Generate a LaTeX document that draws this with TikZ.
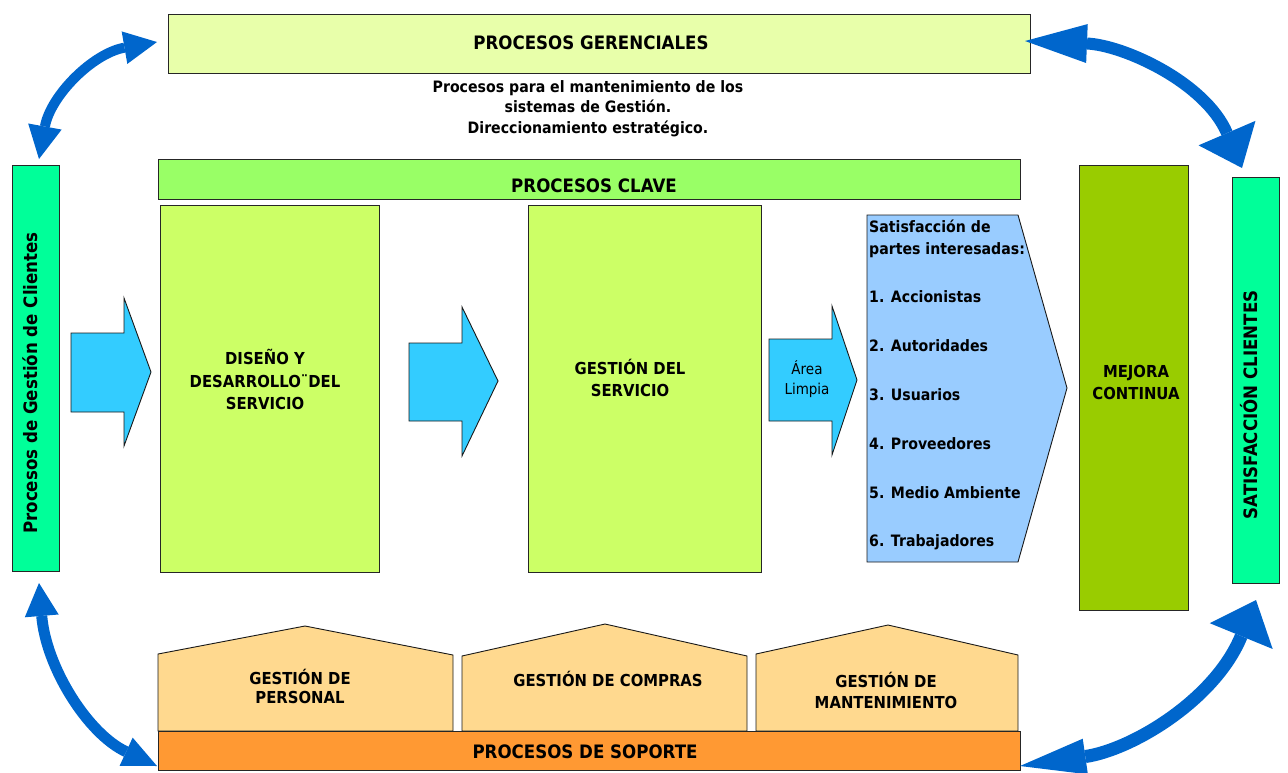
\documentclass[tikz,border=0pt]{standalone}
\usepackage{fontspec}
\setmainfont{DejaVu Sans}[FakeStretch=0.9]
\usetikzlibrary{arrows.meta}
\definecolor{cGer}{HTML}{E8FFAA}
\definecolor{cClave}{HTML}{99FF66}
\definecolor{cCli}{HTML}{00FF99}
\definecolor{cProc}{HTML}{CCFF66}
\definecolor{cMejora}{HTML}{99CC00}
\definecolor{cFlecha}{HTML}{33CCFF}
\definecolor{cPartes}{HTML}{99CCFF}
\definecolor{cCasa}{HTML}{FFD98F}
\definecolor{cSoporte}{HTML}{FF9933}
\definecolor{cAzul}{HTML}{0066CC}
\begin{document}
\begin{tikzpicture}[x=1pt,y=-1pt,
  box/.style={draw=black!85, line width=1.1pt},
  rbox/.style={box, inner sep=0pt, anchor=north west},
  shp/.style={draw=black!90, line width=0.9pt},
  hd/.style={font=\bfseries\fontsize{18.5}{22}\selectfont, inner sep=0pt, text height=13.5pt, text depth=0pt},
  lb/.style={font=\bfseries\fontsize{16.5}{22}\selectfont, inner sep=0pt, text height=12pt, text depth=0pt},
  sm/.style={font=\bfseries\fontsize{15.7}{20}\selectfont, inner sep=0pt, text height=11.4pt, text depth=0pt},
  rg/.style={font=\fontsize{15}{18}\selectfont, inner sep=0pt, text height=10.9pt, text depth=0pt},
  dbl/.style={draw=cAzul, line cap=butt},
]
\useasboundingbox (0,0) rectangle (1288,772);

% ---------- rectangles ----------
\node[rbox, fill=cGer, minimum width=862pt, minimum height=59pt] (ger) at (168,14) {};
\node[rbox, fill=cClave, minimum width=862pt, minimum height=40pt] (clave) at (158,159) {};
\node[rbox, fill=cCli, minimum width=47pt, minimum height=406pt] (gcli) at (12,165) {};
\node[rbox, fill=cCli, minimum width=47pt, minimum height=406pt] (satcli) at (1232,177) {};
\node[rbox, fill=cMejora, minimum width=109pt, minimum height=445pt] (mejora) at (1079,165) {};
\node[rbox, fill=cProc, minimum width=219pt, minimum height=367pt] (diseno) at (160,205) {};
\node[rbox, fill=cProc, minimum width=233pt, minimum height=367pt] (gserv) at (528,205) {};

% ---------- block arrows ----------
\draw[shp, fill=cFlecha] (71,333) -- (124,333) -- (124,298) -- (151,372) -- (124,446) -- (124,412) -- (71,412) -- cycle;
\draw[shp, fill=cFlecha] (409,343) -- (462,343) -- (462,307) -- (498,381) -- (462,456) -- (462,421) -- (409,421) -- cycle;
\draw[shp, fill=cFlecha] (769,339) -- (832,339) -- (832,306) -- (857,380) -- (832,455) -- (832,421) -- (769,421) -- cycle;

% ---------- pentagon ----------
\draw[shp, fill=cPartes] (867,215) -- (1018,215) -- (1067,388) -- (1018,562) -- (867,562) -- cycle;

% ---------- houses ----------
\draw[shp, fill=cCasa] (158,731) -- (158,654) -- (305,626) -- (453,655) -- (453,731) -- cycle;
\draw[shp, fill=cCasa] (462,731) -- (462,656) -- (605,624) -- (747,656) -- (747,731) -- cycle;
\draw[shp, fill=cCasa] (756,731) -- (756,654) -- (888,625) -- (1018,655) -- (1018,731) -- cycle;
\node[rbox, fill=cSoporte, minimum width=862pt, minimum height=39pt] (soporte) at (158,731) {};

% ---------- texts ----------
\node[hd] (tger) at (591,43) {PROCESOS GERENCIALES};
\node[sm] (sub1) at (588,87) {Procesos para el mantenimiento de los};
\node[sm] (sub2) at (588,107) {sistemas de Gestión.};
\node[sm] (sub3) at (588,128) {Direccionamiento estratégico.};
\node[hd] (tclave) at (594,186) {PROCESOS CLAVE};
\node[hd, rotate=90] (tgcli) at (31,383) {Procesos de Gestión de Clientes};
\node[hd, rotate=90] (tsat) at (1251,405) {SATISFACCIÓN CLIENTES};
\node[lb] (tmej1) at (1136,371) {MEJORA};
\node[lb] (tmej2) at (1136,393) {CONTINUA};
\node[lb] (tdis1) at (265,358) {DISEÑO Y};
\node[lb] (tdis2) at (265,381) {DESARROLLO¨DEL};
\node[lb] (tdis3) at (265,403) {SERVICIO};
\node[lb] (tgs1) at (630,368) {GESTIÓN DEL};
\node[lb] (tgs2) at (630,390) {SERVICIO};
\node[rg] (tar1) at (807,369) {Área};
\node[rg] (tar2) at (807,389) {Limpia};
\node[sm, anchor=west] (p0) at (869,227) {Satisfacción de};
\node[sm, anchor=west] (p00) at (869,249) {partes interesadas:};
\node[sm, anchor=west] (p1) at (869,297) {1. Accionistas};
\node[sm, anchor=west] (p2) at (869,346) {2. Autoridades};
\node[sm, anchor=west] (p3) at (869,395) {3. Usuarios};
\node[sm, anchor=west] (p4) at (869,444) {4. Proveedores};
\node[sm, anchor=west] (p5) at (869,493) {5. Medio Ambiente};
\node[sm, anchor=west] (p6) at (869,541) {6. Trabajadores};
\node[lb] (th1a) at (300,678) {GESTIÓN DE};
\node[lb] (th1b) at (300,697) {PERSONAL};
\node[lb] (th2) at (608,680) {GESTIÓN DE COMPRAS};
\node[lb] (th3a) at (886,681) {GESTIÓN DE};
\node[lb] (th3b) at (886,702) {MANTENIMIENTO};
\node[hd] (tsop) at (585,752) {PROCESOS DE SOPORTE};

% ---------- curved double arrows ----------
\coordinate (a1) at (39,159);   \coordinate (a2) at (157,42);
\coordinate (b1) at (1025,41);  \coordinate (b2) at (1242,168);
\coordinate (c1) at (39,583);   \coordinate (c2) at (157,766);
\coordinate (d1) at (1256,600); \coordinate (d2) at (1020,766);

\draw[dbl, line width=10pt,
  {Triangle[length=33pt,width=34pt,line width=0pt 0 0]}-{Triangle[length=33pt,width=33pt,line width=0pt 0 0]}]
  (a1) .. controls (50.6,95.3) and (93.2,53.1) .. (a2);
\draw[dbl, line width=12pt,
  {Triangle[length=62pt,width=39pt,line width=0pt 0 0]}-{Triangle[length=38pt,width=62pt,line width=0pt 0 0]}]
  (b1) .. controls (1123,45) and (1205,82) .. (b2);
\draw[dbl, line width=11pt,
  {Triangle[length=33pt,width=34pt,line width=0pt 0 0]}-{Triangle[length=34pt,width=31pt,line width=0pt 0 0]}]
  (c1) .. controls (46,667.5) and (88,734) .. (c2);
\draw[dbl, line width=13pt,
  {Triangle[length=39pt,width=68pt,line width=0pt 0 0]}-{Triangle[length=66pt,width=36pt,line width=0pt 0 0]}]
  (d1) .. controls (1215,700) and (1131.7,749.8) .. (d2);
\end{tikzpicture}
\end{document}
